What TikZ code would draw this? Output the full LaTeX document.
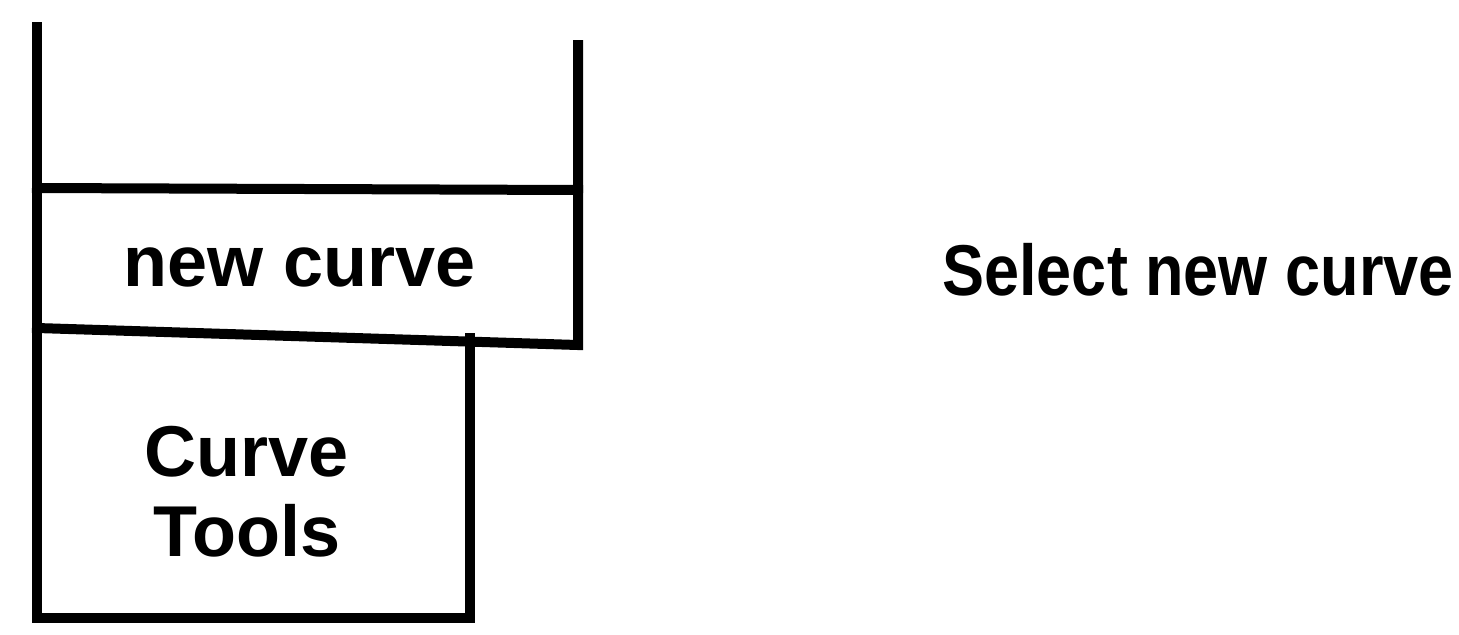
\documentclass[tikz,border=0pt]{standalone}
\usepackage{fontspec}
\setmainfont{Liberation Sans}
\newfontfamily\narrowsans[FakeStretch=0.875]{Liberation Sans}
\tikzset{
  panel line/.style={draw=black,line width=5pt,line cap=rect,line join=miter},
  menu label/.style={font=\fontsize{36}{40}\selectfont\bfseries,align=center,inner sep=0pt},
  hint label/.style={font=\narrowsans\fontsize{36}{40}\selectfont\bfseries,inner sep=0pt}
}

\begin{document}
\begin{tikzpicture}[x=0.5pt,y=-0.5pt]
  \useasboundingbox (0,0) rectangle (1459,634);
  \coordinate (lt) at (37,27);
  \coordinate (lb) at (37,618);
  \coordinate (tb) at (470,618);
  \coordinate (tt) at (470,338);
  \coordinate (rt) at (578,45);
  \coordinate (rb) at (578,345);
  \coordinate (ma) at (37,188);
  \coordinate (mb) at (578,190);
  \coordinate (na) at (37,328);
  \draw[panel line] (lt) -- (lb) -- (tb) -- (tt);
  \draw[panel line] (rt) -- (rb) -- (na);
  \draw[panel line] (ma) -- (mb);
  \node[menu label] (newcurve) at (300,267) {new curve};
  \node[menu label] (tools) at (247,492) {Curve\\Tools};
  \node[hint label] (select) at (1198,270) {Select new curve};
\end{tikzpicture}
\end{document}
